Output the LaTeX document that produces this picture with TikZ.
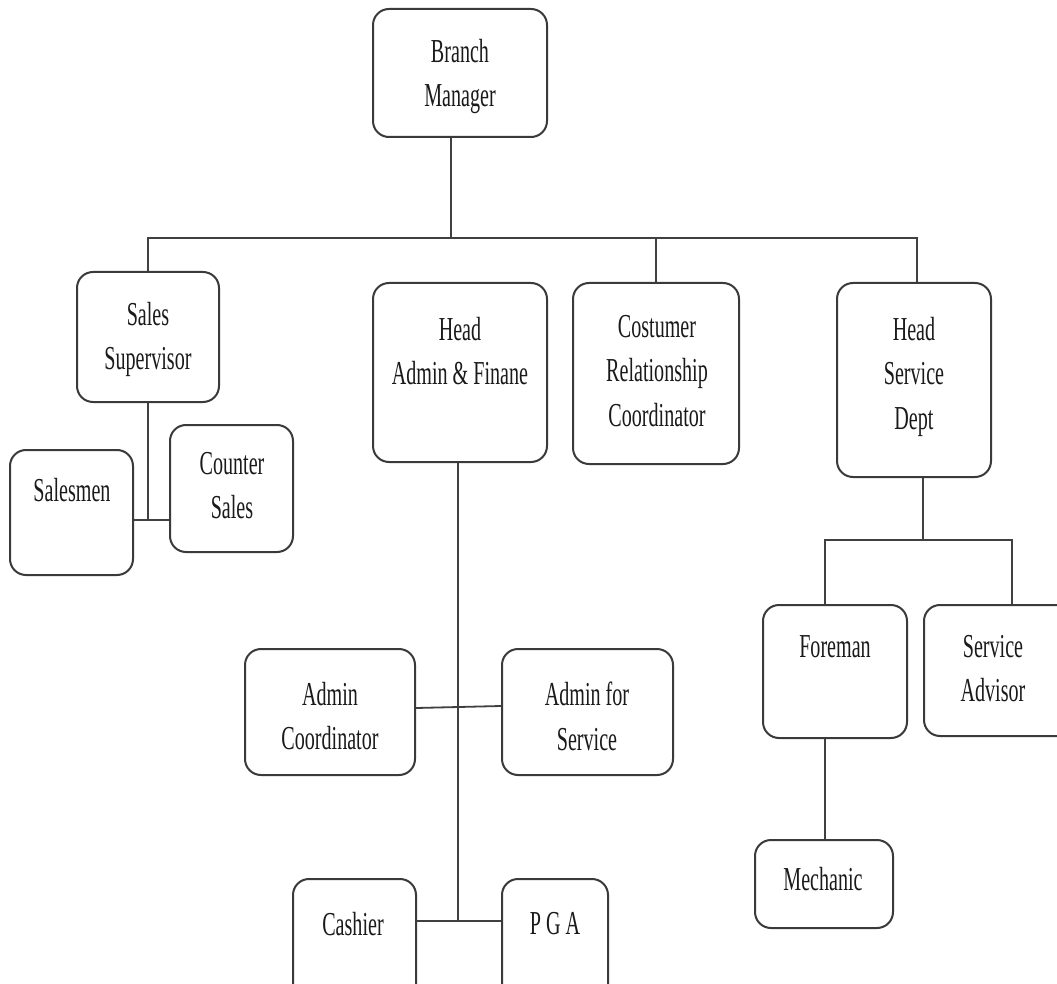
\documentclass[tikz,border=0pt]{standalone}
\usepackage{fontspec}
\setmainfont{Liberation Serif}[FakeStretch=0.6]
\definecolor{boxc}{HTML}{3A3A3A}
\definecolor{linec}{HTML}{404040}
\definecolor{txtc}{HTML}{1A1A1A}
\begin{document}
\begin{tikzpicture}[x=1pt,y=-1pt,
  box/.style={draw=boxc, line width=2pt, rounded corners=16pt, inner sep=0pt, fill=none},
  lbl/.style={anchor=north, inner sep=0pt, align=center, text=txtc,
    font=\fontsize{33.5}{44.5}\selectfont},
  conn/.style={draw=linec, line width=1.8pt}]
\clip (0,0) rectangle (1057,984);
\fill[white] (0,0) rectangle (1057,984);
% boxes
\node[box, minimum width=174pt, minimum height=128pt] (BM) at (460,73) {};
\node[box, minimum width=142pt, minimum height=130pt] (SS) at (148,337) {};
\node[box, minimum width=123pt, minimum height=125pt] (SM) at (71.5,512.5) {};
\node[box, minimum width=123pt, minimum height=127pt] (CS) at (231.5,488.5) {};
\node[box, minimum width=174pt, minimum height=179pt] (HAF) at (460,372.5) {};
\node[box, minimum width=166pt, minimum height=181pt] (CRC) at (656,373.5) {};
\node[box, minimum width=154pt, minimum height=194pt] (HSD) at (914,380) {};
\node[box, minimum width=170pt, minimum height=126pt] (AC) at (330,712) {};
\node[box, minimum width=171pt, minimum height=126pt] (AS) at (587.5,712) {};
\node[box, minimum width=123pt, minimum height=121pt] (CA) at (354.5,939.5) {};
\node[box, minimum width=106pt, minimum height=121pt] (PGA) at (555,939.5) {};
\node[box, minimum width=144pt, minimum height=133pt] (FM) at (835,671.5) {};
\node[box, minimum width=151pt, minimum height=131pt] (SA) at (999.5,670.5) {};
\node[box, minimum width=138pt, minimum height=88pt] (ME) at (824,884) {};
% texts
\node[lbl] (BMt) at (460,39) {Branch\\Manager};
\node[lbl] (SSt) at (148,302) {Sales\\Supervisor};
\node[lbl] (SMt) at (72,478) {Salesmen};
\node[lbl] (CSt) at (232,452) {Counter\\Sales};
\node[lbl] (HAFt) at (460,317) {Head\\Admin \& Finane};
\node[lbl] (CRCt) at (657,315) {Costumer\\Relationship\\Coordinator};
\node[lbl] (HSDt) at (914,317) {Head\\Service\\Dept};
\node[lbl] (ACt) at (330,682) {Admin\\Coordinator};
\node[lbl] (ASt) at (587,682) {Admin for\\Service};
\node[lbl] (CAt) at (353,912) {Cashier};
\node[lbl] (PGAt) at (555,912) {P G A};
\node[lbl] (FMt) at (835,635) {Foreman};
\node[lbl] (SAt) at (993,635) {Service\\Advisor};
\node[lbl] (MEt) at (823,867) {Mechanic};
% junction coordinates
\coordinate (top) at (451,238);
\coordinate (hL) at (148,238);
\coordinate (hR) at (917,238);
\coordinate (sj) at (148,520);
\coordinate (aj) at (458,708);
\coordinate (cj) at (458,921);
\coordinate (fj) at (923,540);
\coordinate (fL) at (825,540);
\coordinate (fR) at (1012,540);
% connectors
\draw[conn] (BM.south -| top) -- (top);
\draw[conn] (SS.north) -- (hL) -- (hR) -- (HSD.north -| hR);
\draw[conn] (CRC.north) -- (CRC.north |- top);
\draw[conn] (SS.south) -- (sj);
\draw[conn] (SM.east |- sj) -- (CS.west |- sj);
\draw[conn] (HAF.south -| cj) -- (cj);
\draw[conn] (AC.east |- aj) -- ([yshift=2pt]AS.west |- aj);
\draw[conn] (CA.east |- cj) -- (PGA.west |- cj);
\draw[conn] (HSD.south -| fj) -- (fj);
\draw[conn] (FM.north -| fL) -- (fL) -- (fR) -- (SA.north -| fR);
\draw[conn] (FM.south -| fL) -- (ME.north -| fL);
\end{tikzpicture}
\end{document}
